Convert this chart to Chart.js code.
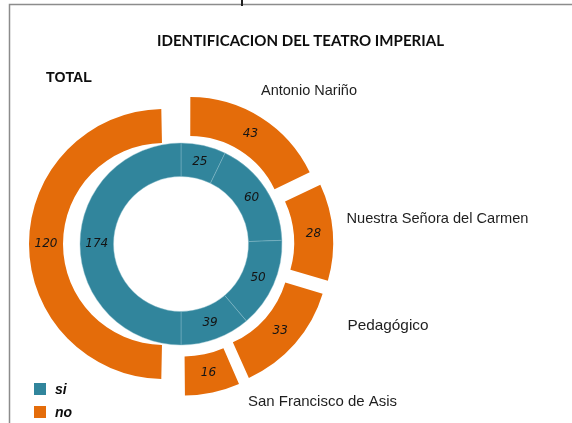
<!DOCTYPE html>
<html><head><meta charset="utf-8">
<script src="https://cdn.jsdelivr.net/npm/chart.js@4.4.1/dist/chart.umd.min.js"></script>
<style>html,body{margin:0;padding:0;background:#fff;} canvas{display:block;}</style>
</head><body>
<canvas id="c" width="572" height="423"></canvas>
<script>
// ---- data ----
const categories = ['Antonio Nariño', 'Nuestra Señora del Carmen', 'Pedagógico', 'San Francisco de Asis'];
const siValues = [25, 60, 50, 39];
const noValues = [43, 28, 33, 16];
const siTotal = 174;
const noTotal = 120;
const seriesNames = ['si', 'no'];
const titleText = 'IDENTIFICACION DEL TEATRO IMPERIAL';
const totalLabel = 'TOTAL';

// ---- style / layout ----
const TEAL = '#31859C', ORANGE = '#E46C0A', CLEAR = 'rgba(0,0,0,0)';
const W = 572, H = 423, CX = 181, CY = 244;
const explodeRight = [68, 64, 66, 52];
const explodeLeft = 68;
function ring(outer, inner, k) {
  const L = outer - inner;
  const R = outer + k * L;
  return { radius: R, cutout: ((R - 3 * L) / R * 100) + '%' };
}

const textPlugin = {
  id: 'texts',
  beforeDraw(chart) {
    const ctx = chart.ctx;
    ctx.save();
    ctx.strokeStyle = '#8c8c8c';
    ctx.lineWidth = 1.5;
    ctx.beginPath();
    ctx.moveTo(9.5, H); ctx.lineTo(9.5, 4.5); ctx.lineTo(W, 4.5);
    ctx.stroke();
    ctx.fillStyle = '#222';
    ctx.fillRect(241, 0, 2, 6);
    ctx.restore();
  },
  afterDatasetsDraw(chart) {
    const ctx = chart.ctx;
    ctx.save();
    ctx.font = 'italic 12px "DejaVu Sans"';
    ctx.fillStyle = '#141414';
    ctx.textAlign = 'center';
    ctx.textBaseline = 'middle';
    chart.data.datasets.forEach((ds, di) => {
      const meta = chart.getDatasetMeta(di);
      meta.data.forEach((arc, i) => {
        const bg = Array.isArray(ds.backgroundColor) ? ds.backgroundColor[i] : ds.backgroundColor;
        if (bg === CLEAR) return;
        const p = arc.getProps(['x', 'y', 'startAngle', 'endAngle', 'innerRadius', 'outerRadius']);
        const off = (arc.options.offset || 0) / 4;
        const circ = p.endAngle - p.startAngle;
        const fix = 1 - Math.sin(Math.min(Math.PI, circ));
        const mid = (p.startAngle + p.endAngle) / 2;
        const r = (p.innerRadius + p.outerRadius) / 2 + off + off * fix;
        ctx.fillText(String(ds.data[i]), p.x + Math.cos(mid) * r, p.y + Math.sin(mid) * r);
      });
    });
    ctx.restore();
  },
  afterDraw(chart) {
    const ctx = chart.ctx;
    function fit(text, x, y, width, font, color) {
      ctx.save();
      ctx.font = font;
      ctx.fillStyle = color;
      ctx.textAlign = 'left';
      ctx.textBaseline = 'alphabetic';
      const w = ctx.measureText(text).width;
      ctx.translate(x, y);
      if (width) ctx.scale(width / w, 1);
      ctx.fillText(text, 0, 0);
      ctx.restore();
    }
    fit(titleText, 157, 46, 287, 'bold 16px Lato', '#0d0d0d');
    fit(totalLabel, 46, 82, 46, 'bold 15px "Liberation Sans"', '#0d0d0d');
    const catPos = [[261, 95, 96], [346.5, 222.5, 182], [347.5, 330, 81], [248, 406, 149]];
    categories.forEach((c, i) => fit(c, catPos[i][0], catPos[i][1], catPos[i][2], '15px "Liberation Sans"', '#1e1e1e'));
    // legend
    const legendCols = [TEAL, ORANGE];
    const legY = [383, 406];
    seriesNames.forEach((n, i) => {
      ctx.save();
      ctx.fillStyle = legendCols[i];
      ctx.fillRect(34, legY[i], 12, 12);
      ctx.restore();
      fit(n, 55, legY[i] + 11, null, 'bold italic 14px "Liberation Sans"', '#0d0d0d');
    });
  }
};

new Chart(document.getElementById('c'), {
  type: 'doughnut',
  data: {
    labels: [...categories, totalLabel],
    datasets: [
      Object.assign({
        label: seriesNames[1],
        data: [...noValues, noTotal],
        backgroundColor: [ORANGE, ORANGE, ORANGE, ORANGE, CLEAR],
        offset: [...explodeRight, 0],
        borderWidth: 0,
        weight: 1
      }, ring(131, 92, 0)),
      Object.assign({
        label: seriesNames[1],
        data: [noTotal, noTotal],
        backgroundColor: [CLEAR, ORANGE],
        offset: [0, explodeLeft],
        borderWidth: 0,
        weight: 1
      }, ring(118, 84, 1)),
      Object.assign({
        label: seriesNames[0],
        data: [...siValues, siTotal],
        backgroundColor: TEAL,
        borderColor: 'rgba(140,190,205,0.55)',
        borderWidth: 0.8,
        weight: 1
      }, ring(101, 67.5, 2))
    ]
  },
  options: {
    responsive: false,
    animation: false,
    events: [],
    layout: { padding: { left: 0, right: W - 2 * CX, top: 2 * CY - H, bottom: 0 } },
    plugins: { legend: { display: false }, title: { display: false }, tooltip: { enabled: false } }
  },
  plugins: [textPlugin]
});
</script>
</body></html>
